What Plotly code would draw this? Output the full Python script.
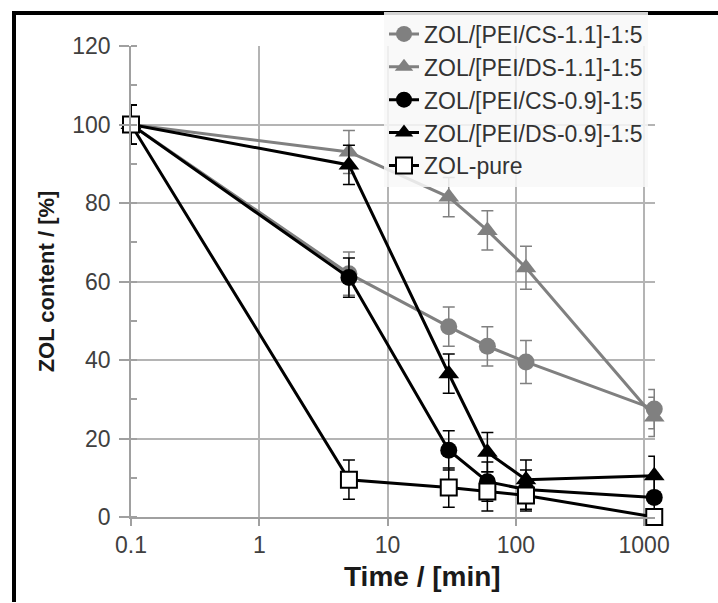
import plotly.graph_objects as go

# ---- data ----
time_min = [0.1, 5, 30, 60, 120, 1200]
cs_11 = [100, 62, 48.5, 43.5, 39.5, 27.5]
ds_11 = [100, 93, 81.5, 73, 63.5, 25.5]
cs_09 = [100, 61, 17, 9, 7, 5]
ds_09 = [100, 89.7, 36.5, 16.5, 9.5, 10.5]
pure = [100, 9.5, 7.5, 6.5, 5.5, 0]
err_cs_11 = [5, 5.5, 5, 5, 5.5, 5]
err_ds_11 = [5, 5.5, 5, 5, 5.5, 5]
err_cs_09 = [5, 5, 5, 5, 5, 5]
err_ds_09 = [5, 5, 5, 5, 5, 5]
err_pure = [5, 5, 5, 5, 4, 0]
names = ["ZOL/[PEI/CS-1.1]-1:5", "ZOL/[PEI/DS-1.1]-1:5",
         "ZOL/[PEI/CS-0.9]-1:5", "ZOL/[PEI/DS-0.9]-1:5", "ZOL-pure"]
x_ticks = [0.1, 1, 10, 100, 1000]
x_tick_text = ["0.1", "1", "10", "100", "1000"]
x_title = "Time / [min]"
y_title = "ZOL content / [%]"

GRAY = "#808080"
BLACK = "#000000"
FONT = "Liberation Sans, Arial, sans-serif"

series = [
    (cs_11, err_cs_11, GRAY, dict(symbol="circle", size=17, color=GRAY)),
    (ds_11, err_ds_11, GRAY, dict(symbol="triangle-up", size=18, color=GRAY)),
    (cs_09, err_cs_09, BLACK, dict(symbol="circle", size=17, color=BLACK)),
    (ds_09, err_ds_09, BLACK, dict(symbol="triangle-up", size=18, color=BLACK)),
    (pure, err_pure, BLACK, dict(symbol="square", size=16, color="white",
                                 line=dict(color=BLACK, width=2))),
]

fig = go.Figure()
for (vals, errs, col, mk), nm in zip(series, names):
    fig.add_trace(go.Scatter(
        x=time_min, y=vals, name=nm, mode="lines+markers",
        line=dict(color=col, width=3),
        marker=mk, cliponaxis=False,
        error_y=dict(type="data", array=errs, visible=True,
                     color=col, thickness=1.5, width=6),
    ))

W, H = 718, 603
L, R, T, B = 131, 63, 40, 86
pw, ph = W - L - R, H - T - B


def px_x(p):
    return (p - L) / pw


def px_y(p):
    return (H - B - p) / ph


fig.update_layout(
    width=W, height=H,
    margin=dict(l=L, r=R, t=T, b=B, pad=0),
    paper_bgcolor="white", plot_bgcolor="white",
    font=dict(family=FONT, size=22, color="#404040"),
    showlegend=True,
    legend=dict(
        x=px_x(384), y=px_y(6), xanchor="left", yanchor="top",
        bgcolor="rgba(248,248,248,0.85)", borderwidth=0,
        font=dict(family=FONT, size=23, color="#333333"),
        tracegroupgap=0, itemwidth=30,
    ),
    xaxis=dict(
        type="log", range=[-1, 3.085],
        tickvals=x_ticks, ticktext=x_tick_text,
        showgrid=True, gridcolor="#b4b4b4", gridwidth=1.5,
        showline=True, linecolor="#a0a0a0", linewidth=1.5,
        ticks="outside", ticklen=7, tickcolor="#a0a0a0", tickwidth=1.5,
        zeroline=False,
        tickfont=dict(family=FONT, size=23, color="#404040"),
    ),
    yaxis=dict(
        range=[0, 120], tickvals=[0, 20, 40, 60, 80, 100, 120],
        showgrid=True, gridcolor="#b4b4b4", gridwidth=1.5,
        showline=True, linecolor="#a0a0a0", linewidth=1.5,
        ticks="outside", ticklen=10, tickcolor="#a0a0a0", tickwidth=1.5,
        ticklabelstandoff=4,
        minor=dict(dtick=10, ticks="inside", ticklen=6, tickcolor="#a0a0a0",
                   tickwidth=1.5, showgrid=False),
        zeroline=False,
        tickfont=dict(family=FONT, size=23, color="#404040"),
        title=dict(text="<b>" + y_title + "</b>", standoff=12,
                   font=dict(family=FONT, size=22, color="#1a1a1a")),
    ),
    annotations=[
        dict(text="<b>" + x_title + "</b>", xref="paper", yref="paper",
             x=px_x(422), y=px_y(577), xanchor="center", yanchor="middle",
             showarrow=False,
             font=dict(family=FONT, size=28, color="#1a1a1a")),
    ],
    shapes=[
        dict(type="line", xref="paper", yref="paper",
             x0=px_x(14), x1=px_x(14), y0=px_y(5), y1=px_y(603),
             line=dict(color="black", width=4)),
        dict(type="line", xref="paper", yref="paper",
             x0=px_x(12), x1=px_x(718), y0=px_y(6.5), y1=px_y(6.5),
             line=dict(color="black", width=4)),
    ],
)

fig.write_html("out.html")
